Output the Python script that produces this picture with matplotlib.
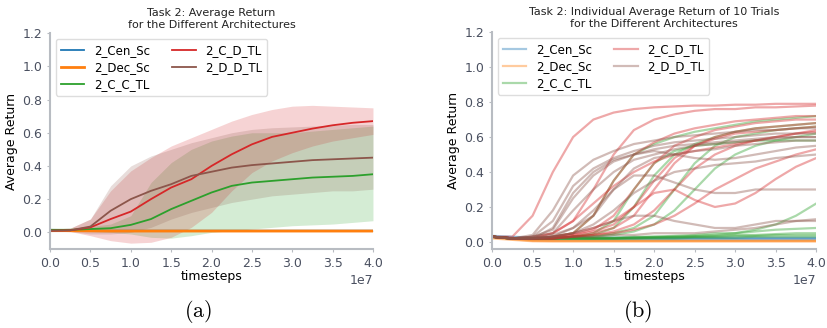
import numpy as np
import matplotlib.pyplot as plt

# -----------------------------------------------------------------------------
# Data (timesteps in units of 1e7)
t_pts = [0.0, 0.25, 0.5, 0.75, 1.0, 1.25, 1.5, 1.75, 2.0, 2.25, 2.5,
         2.75, 3.0, 3.25, 3.5, 3.75, 4.0]
x_ticks = [0.0, 0.5, 1.0, 1.5, 2.0, 2.5, 3.0, 3.5, 4.0]

names = ['2_Cen_Sc', '2_Dec_Sc', '2_C_C_TL', '2_C_D_TL', '2_D_D_TL']
colors = ['tab:blue', 'tab:orange', 'tab:green', 'tab:red', 'tab:brown']

# (a) mean curves
mean_cen = [0.015, 0.012, 0.011, 0.010, 0.010, 0.010, 0.010, 0.010, 0.010, 0.010, 0.010,
            0.010, 0.010, 0.010, 0.010, 0.010, 0.010]
mean_dec = [0.012, 0.010, 0.009, 0.008, 0.008, 0.008, 0.008, 0.008, 0.008, 0.008, 0.008,
            0.008, 0.008, 0.008, 0.008, 0.008, 0.008]
mean_cc = [0.015, 0.015, 0.02, 0.025, 0.045, 0.08, 0.14, 0.19, 0.24, 0.28, 0.30,
           0.31, 0.32, 0.33, 0.335, 0.34, 0.35]
mean_cd = [0.01, 0.012, 0.03, 0.08, 0.125, 0.2, 0.27, 0.32, 0.40, 0.47, 0.53,
           0.575, 0.60, 0.625, 0.645, 0.66, 0.67]
mean_dd = [0.01, 0.012, 0.035, 0.13, 0.2, 0.25, 0.29, 0.34, 0.365, 0.39, 0.405,
           0.415, 0.425, 0.435, 0.44, 0.445, 0.45]

# (a) shaded bands (lower, upper)
low_cen = [0.005] * 17
up_cen = [0.025, 0.02, 0.018, 0.016, 0.016, 0.016, 0.016, 0.016, 0.016, 0.016, 0.016,
          0.016, 0.016, 0.016, 0.016, 0.016, 0.016]
low_dec = [0.004] * 17
up_dec = [0.02, 0.015, 0.013, 0.012, 0.012, 0.012, 0.012, 0.012, 0.012, 0.012, 0.012,
          0.012, 0.012, 0.012, 0.012, 0.012, 0.012]
low_cc = [0.005, 0.005, 0.005, 0.0, -0.01, -0.03, -0.035, -0.02, 0.0, 0.01, 0.02,
          0.03, 0.04, 0.045, 0.05, 0.06, 0.07]
up_cc = [0.025, 0.025, 0.035, 0.05, 0.1, 0.3, 0.42, 0.5, 0.55, 0.58, 0.6,
         0.6, 0.6, 0.61, 0.62, 0.63, 0.64]
low_cd = [0.005, 0.005, -0.02, -0.05, -0.065, -0.06, -0.03, 0.03, 0.12, 0.25, 0.36,
          0.43, 0.48, 0.52, 0.55, 0.57, 0.59]
up_cd = [0.02, 0.025, 0.08, 0.25, 0.37, 0.45, 0.52, 0.57, 0.62, 0.67, 0.71,
         0.74, 0.76, 0.765, 0.76, 0.755, 0.75]
low_dd = [0.005, 0.005, -0.01, -0.01, 0.0, 0.03, 0.08, 0.12, 0.15, 0.18, 0.2,
          0.22, 0.23, 0.24, 0.25, 0.25, 0.26]
up_dd = [0.02, 0.025, 0.08, 0.28, 0.4, 0.46, 0.5, 0.54, 0.57, 0.6, 0.62,
         0.63, 0.635, 0.64, 0.645, 0.65, 0.65]

# (b) individual trials
trials_cen = [
    [0.035, 0.03, 0.025, 0.025, 0.025, 0.025, 0.025, 0.025, 0.025, 0.025, 0.025, 0.025, 0.025, 0.025, 0.025, 0.025, 0.025],
    [0.03, 0.025, 0.02, 0.02, 0.02, 0.02, 0.02, 0.02, 0.02, 0.02, 0.02, 0.02, 0.02, 0.02, 0.02, 0.02, 0.02],
    [0.025, 0.02, 0.015, 0.015, 0.015, 0.015, 0.015, 0.015, 0.015, 0.015, 0.015, 0.015, 0.015, 0.015, 0.015, 0.015, 0.015],
]
trials_dec = [
    [0.03, 0.02, 0.01, 0.008, 0.008, 0.008, 0.008, 0.008, 0.008, 0.008, 0.008, 0.008, 0.008, 0.008, 0.008, 0.008, 0.008],
    [0.025, 0.015, 0.006, 0.005, 0.005, 0.005, 0.005, 0.005, 0.005, 0.005, 0.005, 0.005, 0.005, 0.005, 0.005, 0.005, 0.005],
    [0.02, 0.012, 0.004, 0.003, 0.003, 0.003, 0.003, 0.003, 0.003, 0.003, 0.003, 0.003, 0.003, 0.003, 0.003, 0.003, 0.003],
]
trials_cc = [
    [0.03, 0.02, 0.02, 0.03, 0.05, 0.15, 0.35, 0.5, 0.56, 0.6, 0.63, 0.65, 0.67, 0.69, 0.7, 0.71, 0.72],
    [0.03, 0.02, 0.02, 0.02, 0.03, 0.04, 0.08, 0.2, 0.38, 0.5, 0.56, 0.6, 0.63, 0.65, 0.66, 0.67, 0.68],
    [0.03, 0.02, 0.02, 0.02, 0.03, 0.03, 0.05, 0.08, 0.15, 0.3, 0.45, 0.55, 0.6, 0.62, 0.64, 0.65, 0.66],
    [0.03, 0.02, 0.02, 0.02, 0.03, 0.03, 0.04, 0.06, 0.1, 0.18, 0.3, 0.42, 0.5, 0.55, 0.58, 0.6, 0.62],
    [0.03, 0.02, 0.02, 0.02, 0.03, 0.05, 0.12, 0.3, 0.45, 0.52, 0.55, 0.56, 0.57, 0.58, 0.58, 0.58, 0.58],
    [0.03, 0.02, 0.02, 0.02, 0.02, 0.02, 0.02, 0.02, 0.02, 0.02, 0.025, 0.025, 0.025, 0.03, 0.03, 0.03, 0.03],
    [0.03, 0.02, 0.02, 0.02, 0.02, 0.02, 0.02, 0.025, 0.025, 0.03, 0.03, 0.035, 0.04, 0.04, 0.045, 0.05, 0.05],
    [0.03, 0.02, 0.02, 0.02, 0.02, 0.02, 0.025, 0.03, 0.03, 0.035, 0.04, 0.05, 0.05, 0.06, 0.07, 0.075, 0.08],
    [0.03, 0.02, 0.02, 0.02, 0.02, 0.02, 0.02, 0.025, 0.03, 0.03, 0.035, 0.04, 0.05, 0.07, 0.1, 0.15, 0.22],
    [0.03, 0.02, 0.02, 0.02, 0.02, 0.02, 0.02, 0.02, 0.025, 0.025, 0.03, 0.03, 0.035, 0.035, 0.04, 0.04, 0.04],
]
trials_cd = [
    [0.03, 0.03, 0.15, 0.4, 0.6, 0.7, 0.74, 0.76, 0.77, 0.775, 0.78, 0.78, 0.785, 0.785, 0.79, 0.79, 0.79],
    [0.03, 0.02, 0.03, 0.05, 0.12, 0.3, 0.5, 0.64, 0.7, 0.73, 0.75, 0.76, 0.76, 0.77, 0.77, 0.775, 0.78],
    [0.03, 0.02, 0.02, 0.03, 0.05, 0.08, 0.12, 0.2, 0.28, 0.3, 0.24, 0.2, 0.22, 0.28, 0.36, 0.43, 0.48],
    [0.03, 0.02, 0.02, 0.03, 0.05, 0.15, 0.35, 0.5, 0.57, 0.62, 0.65, 0.67, 0.69, 0.7, 0.71, 0.72, 0.72],
    [0.03, 0.02, 0.02, 0.02, 0.04, 0.07, 0.15, 0.3, 0.45, 0.55, 0.6, 0.64, 0.66, 0.68, 0.69, 0.7, 0.7],
    [0.03, 0.02, 0.02, 0.02, 0.03, 0.05, 0.08, 0.15, 0.3, 0.45, 0.55, 0.6, 0.63, 0.65, 0.66, 0.67, 0.68],
    [0.03, 0.02, 0.02, 0.03, 0.04, 0.06, 0.1, 0.2, 0.35, 0.48, 0.55, 0.59, 0.62, 0.63, 0.64, 0.65, 0.66],
    [0.03, 0.02, 0.02, 0.02, 0.03, 0.04, 0.06, 0.1, 0.18, 0.3, 0.42, 0.5, 0.55, 0.58, 0.6, 0.62, 0.64],
    [0.03, 0.02, 0.02, 0.05, 0.12, 0.22, 0.32, 0.4, 0.46, 0.5, 0.52, 0.54, 0.56, 0.58, 0.6, 0.62, 0.63],
    [0.03, 0.02, 0.02, 0.02, 0.03, 0.04, 0.05, 0.07, 0.1, 0.15, 0.22, 0.3, 0.36, 0.42, 0.46, 0.5, 0.53],
]
trials_dd = [
    [0.03, 0.02, 0.04, 0.18, 0.38, 0.47, 0.52, 0.56, 0.58, 0.6, 0.61, 0.62, 0.63, 0.64, 0.64, 0.65, 0.65],
    [0.03, 0.02, 0.03, 0.12, 0.32, 0.42, 0.48, 0.52, 0.55, 0.57, 0.58, 0.59, 0.6, 0.61, 0.62, 0.62, 0.62],
    [0.03, 0.02, 0.03, 0.07, 0.25, 0.38, 0.46, 0.5, 0.53, 0.55, 0.56, 0.57, 0.58, 0.59, 0.6, 0.6, 0.6],
    [0.03, 0.02, 0.03, 0.05, 0.18, 0.3, 0.4, 0.47, 0.5, 0.53, 0.55, 0.56, 0.57, 0.58, 0.59, 0.6, 0.6],
    [0.03, 0.02, 0.02, 0.04, 0.08, 0.15, 0.3, 0.42, 0.48, 0.5, 0.52, 0.53, 0.55, 0.56, 0.57, 0.58, 0.58],
    [0.03, 0.02, 0.02, 0.08, 0.28, 0.4, 0.47, 0.5, 0.52, 0.5, 0.48, 0.47, 0.48, 0.5, 0.52, 0.54, 0.55],
    [0.03, 0.02, 0.02, 0.03, 0.05, 0.1, 0.18, 0.28, 0.35, 0.4, 0.42, 0.44, 0.45, 0.46, 0.48, 0.49, 0.5],
    [0.03, 0.02, 0.02, 0.03, 0.08, 0.18, 0.3, 0.38, 0.38, 0.34, 0.3, 0.28, 0.28, 0.3, 0.3, 0.3, 0.3],
    [0.03, 0.02, 0.02, 0.03, 0.05, 0.08, 0.12, 0.15, 0.15, 0.12, 0.1, 0.08, 0.08, 0.1, 0.12, 0.12, 0.13],
    [0.03, 0.02, 0.02, 0.02, 0.03, 0.03, 0.04, 0.04, 0.05, 0.05, 0.05, 0.06, 0.07, 0.08, 0.1, 0.12, 0.12],
]

# -----------------------------------------------------------------------------
tick_col = '#4a5060'
spine_col = '#b8bcc2'

plt.rcParams['font.family'] = 'DejaVu Sans'
plt.rcParams['font.size'] = 9
plt.rcParams['mathtext.fontset'] = 'cm'

fig = plt.figure(figsize=(8.27, 3.28), dpi=100)
ax1 = fig.add_axes([0.0605, 0.241, 0.3905, 0.658])
ax2 = fig.add_axes([0.595, 0.241, 0.392, 0.661])

x = np.array(t_pts) * 1e7

# (a) mean +- band
means = [mean_cen, mean_dec, mean_cc, mean_cd, mean_dd]
lows = [low_cen, low_dec, low_cc, low_cd, low_dd]
ups = [up_cen, up_dec, up_cc, up_cd, up_dd]
for name, col, m, lo, hi in zip(names, colors, means, lows, ups):
    ax1.fill_between(x, lo, hi, color=col, alpha=0.2, linewidth=0)
    lw = 2.0 if name == '2_Dec_Sc' else 1.3
    ax1.plot(x, m, color=col, linewidth=lw, label=name)

# (b) individual trials
all_trials = [trials_cen, trials_dec, trials_cc, trials_cd, trials_dd]
for name, col, tr in zip(names, colors, all_trials):
    for i, y in enumerate(tr):
        ax2.plot(x, y, color=col, alpha=0.4, linewidth=1.6,
                 label=name if i == 0 else None)

titles = ['Task 2: Average Return\nfor the Different Architectures',
          'Task 2: Individual Average Return of 10 Trials\nfor the Different Architectures']
for ax, title, ylo in zip([ax1, ax2], titles, [-0.1, -0.04]):
    ax.set_xlim(0, 4e7)
    ax.set_ylim(ylo, 1.2)
    ax.set_xticks(np.array(x_ticks) * 1e7)
    ax.set_yticks([0.0, 0.2, 0.4, 0.6, 0.8, 1.0, 1.2])
    ax.set_title(title, fontsize=8, pad=4, color='#222222')
    ax.set_xlabel('timesteps', fontsize=9, labelpad=0)
    ax.set_ylabel('Average Return', fontsize=9, labelpad=3)
    for s in ['top', 'right']:
        ax.spines[s].set_visible(False)
    for s in ['left', 'bottom']:
        ax.spines[s].set_color(spine_col)
        ax.spines[s].set_linewidth(1.5)
    ax.tick_params(colors=tick_col, labelsize=9, length=2, width=0.8)
    ax.tick_params(axis='both', color=spine_col)
    ax.xaxis.get_offset_text().set_color(tick_col)
    ax.xaxis.get_offset_text().set_fontsize(9)
    leg = ax.legend(loc='upper left', ncol=2, fontsize=8.5, frameon=True,
                    fancybox=True, framealpha=1.0, edgecolor='#dddddd',
                    handlelength=2.0, handletextpad=0.8, columnspacing=1.9,
                    borderpad=0.4, labelspacing=0.35)

fig.text(0.24, 0.05, r'$\mathrm{(a)}$', fontsize=16, ha='center', va='center')
fig.text(0.771, 0.05, r'$\mathrm{(b)}$', fontsize=16, ha='center', va='center')

fig.savefig('out.png', dpi=100)
